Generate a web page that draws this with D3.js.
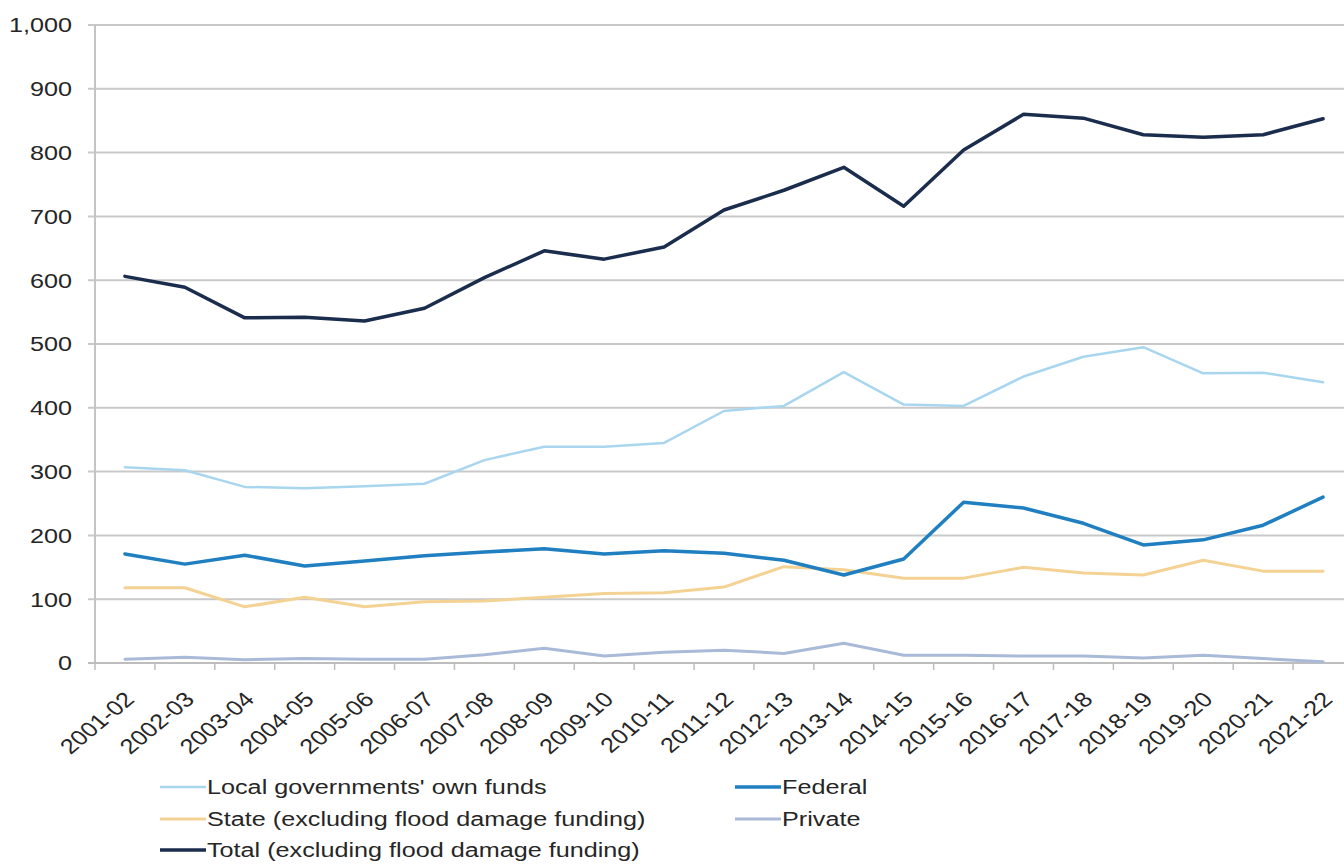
<!DOCTYPE html>
<html>
<head>
<meta charset="utf-8">
<script src="https://cdn.jsdelivr.net/npm/d3@7"></script>
<style>
  html, body { margin: 0; padding: 0; background: #fff; }
  svg { display: block; }
  text { font-family: "Liberation Sans", Arial, sans-serif; fill: #262626; }
</style>
</head>
<body>
<svg id="chart" width="1344" height="865"></svg>
<script>
// Financial years
const years = ["2001-02","2002-03","2003-04","2004-05","2005-06","2006-07","2007-08",
  "2008-09","2009-10","2010-11","2011-12","2012-13","2013-14","2014-15","2015-16",
  "2016-17","2017-18","2018-19","2019-20","2020-21","2021-22"];

// Funding by source ($m)
const localOwnFunds = [307,302,276,274,277,281,318,339,339,345,395,403,456,405,403,449,480,495,454,455,440];
const stateFunding  = [118,118,88,103,88,96,97,103,109,110,119,151,146,133,133,150,141,138,161,144,144];
const totalFunding  = [606,589,541,542,536,556,604,646,633,652,710,741,777,716,804,860,854,828,824,828,853];
const federalFunding= [171,155,169,152,160,168,174,179,171,176,172,161,138,163,252,243,219,185,193,216,260];
const privateFunding= [6,9,5,7,6,6,13,23,11,17,20,15,31,12,12,11,11,8,12,7,2];

const yTicks = [0,100,200,300,400,500,600,700,800,900,1000];

const seriesNames = [
  "Local governments' own funds",
  "State (excluding flood damage funding)",
  "Total (excluding flood damage funding)",
  "Federal",
  "Private"
];

const series = [
  { name: seriesNames[0], values: localOwnFunds,  color: "#a9d6ef", width: 2.5 },
  { name: seriesNames[1], values: stateFunding,   color: "#f4d293", width: 3 },
  { name: seriesNames[4], values: privateFunding, color: "#a9b9d8", width: 3 },
  { name: seriesNames[3], values: federalFunding, color: "#1f7fc0", width: 3.5 },
  { name: seriesNames[2], values: totalFunding,   color: "#1b2d4d", width: 3.5 }
];
const colorOf = Object.fromEntries(series.map(s => [s.name, s]));

const svg = d3.select("#chart");
const SX = 1.2; // horizontal text stretch

const x = d3.scaleBand().domain(years).range([95, 1353]).padding(0);
const cx = d => x(d) + x.bandwidth() / 2;
const y = d3.scaleLinear().domain([0, 1000]).range([663, 25]);

// Horizontal gridlines
svg.append("g").selectAll("line").data(yTicks).join("line")
  .attr("x1", 88).attr("x2", 1344)
  .attr("y1", d => y(d)).attr("y2", d => y(d))
  .attr("stroke", "#c9c9c9").attr("stroke-width", 2);

// Y axis line
svg.append("line")
  .attr("x1", 95).attr("x2", 95).attr("y1", y(1000)).attr("y2", y(0))
  .attr("stroke", "#c4c4c4").attr("stroke-width", 2);

// Y tick labels
const fmt = d3.format(",");
svg.append("g").selectAll("text").data(yTicks).join("text")
  .attr("transform", d => `translate(72,${y(d)}) scale(${SX},1)`)
  .attr("text-anchor", "end")
  .attr("dy", "0.35em")
  .attr("font-size", 21)
  .text(d => fmt(d));

// X axis line and ticks at category boundaries
svg.append("line")
  .attr("x1", 88).attr("x2", 1344).attr("y1", y(0)).attr("y2", y(0))
  .attr("stroke", "#bdbdbd").attr("stroke-width", 2);
const boundaries = years.map(d => x(d)).concat([x(years[years.length - 1]) + x.bandwidth()]);
svg.append("g").selectAll("line").data(boundaries).join("line")
  .attr("x1", d => d).attr("x2", d => d)
  .attr("y1", y(0)).attr("y2", y(0) + 7)
  .attr("stroke", "#bdbdbd").attr("stroke-width", 1.5);

// X tick labels, rotated
svg.append("g").selectAll("text").data(years).join("text")
  .attr("transform", d => `translate(${cx(d) - 2},690) scale(${SX},1) rotate(-45)`)
  .attr("text-anchor", "end")
  .attr("dy", "0.72em")
  .attr("font-size", 21)
  .text(d => d);

// Series lines
const line = d3.line().x((v, i) => cx(years[i])).y(v => y(v));
svg.append("g").selectAll("path").data(series).join("path")
  .attr("d", s => line(s.values))
  .attr("fill", "none")
  .attr("stroke", s => s.color)
  .attr("stroke-width", s => s.width)
  .attr("stroke-linejoin", "round")
  .attr("stroke-linecap", "round");

// Legend
const legendItems = [
  { name: seriesNames[0], lx: 160, ly: 787 },
  { name: seriesNames[1], lx: 160, ly: 819 },
  { name: seriesNames[2], lx: 160, ly: 850 },
  { name: seriesNames[3], lx: 735, ly: 787 },
  { name: seriesNames[4], lx: 735, ly: 819 }
];
const lg = svg.append("g").selectAll("g").data(legendItems).join("g");
lg.append("line")
  .attr("x1", d => d.lx).attr("x2", d => d.lx + 46)
  .attr("y1", d => d.ly).attr("y2", d => d.ly)
  .attr("stroke", d => colorOf[d.name].color)
  .attr("stroke-width", d => colorOf[d.name].width);
lg.append("text")
  .attr("transform", d => `translate(${d.lx + 47},${d.ly}) scale(${SX},1)`)
  .attr("dy", "0.35em")
  .attr("font-size", 21)
  .text(d => d.name);
</script>
</body>
</html>
